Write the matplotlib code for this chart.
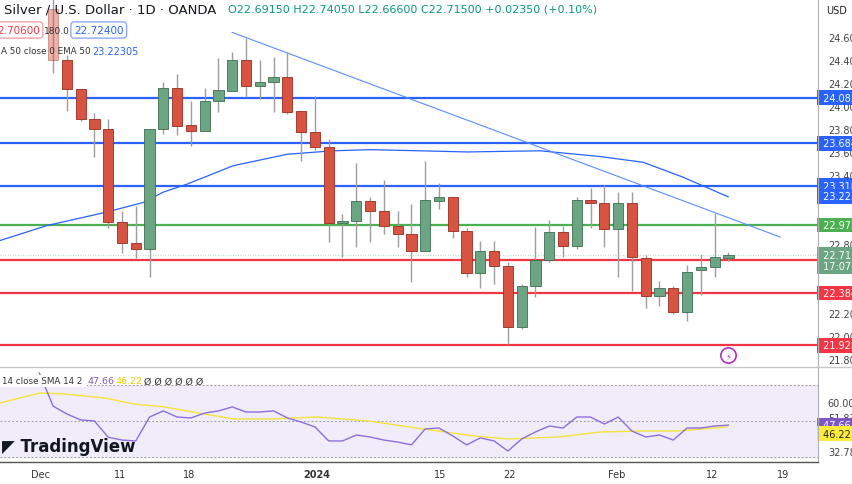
import matplotlib
matplotlib.use("Agg")
import matplotlib.pyplot as plt
import numpy as np
from matplotlib.patches import Rectangle

# daily candles, Dec 4 2023 .. Feb 13 2024 (index 0 = Dec 4)
opens = [24.85, 24.41, 24.16, 23.90, 23.81, 23.00, 22.82, 22.77, 23.81, 24.17,
         23.84, 23.79, 24.05, 24.14, 24.41, 24.18, 24.22, 24.26, 23.97, 23.78,
         23.65, 22.99, 23.01, 23.18, 23.10, 22.97, 22.90, 22.75, 23.18, 23.22,
         22.92, 22.56, 22.75, 22.62, 22.09, 22.44, 22.67, 22.91, 22.79, 23.19,
         23.17, 22.94, 23.17, 22.69, 22.36, 22.43, 22.22, 22.58, 22.61, 22.69]
closes = [24.41, 24.16, 23.90, 23.81, 23.00, 22.82, 22.77, 23.81, 24.17, 23.84,
          23.79, 24.05, 24.15, 24.41, 24.18, 24.22, 24.26, 23.96, 23.78, 23.65,
          22.99, 23.01, 23.18, 23.10, 22.97, 22.90, 22.75, 23.19, 23.22, 22.92,
          22.56, 22.75, 22.62, 22.09, 22.44, 22.67, 22.91, 22.79, 23.19, 23.17,
          22.94, 23.17, 22.70, 22.36, 22.43, 22.22, 22.57, 22.61, 22.70, 22.715]
highs = [24.95, 24.45, 24.03, 23.95, 23.90, 23.10, 23.14, 23.81, 24.22, 24.29,
         24.05, 24.17, 24.43, 24.48, 24.60, 24.41, 24.44, 24.48, 23.97, 24.10,
         23.72, 23.07, 23.51, 23.22, 23.37, 23.10, 23.16, 23.53, 23.34, 23.22,
         22.95, 22.84, 22.84, 22.65, 22.46, 22.96, 23.02, 22.97, 23.22, 23.30,
         23.32, 23.26, 23.26, 22.71, 22.49, 22.44, 22.63, 22.72, 23.08, 22.74]
lows = [24.30, 23.97, 23.88, 23.57, 22.95, 22.73, 22.69, 22.52, 23.77, 23.76,
        23.66, 23.79, 23.96, 24.14, 24.09, 24.07, 23.96, 23.94, 23.53, 23.63,
        22.83, 22.70, 22.78, 22.83, 22.90, 22.78, 22.48, 22.75, 23.11, 22.86,
        22.52, 22.43, 22.46, 21.94, 22.07, 22.35, 22.65, 22.70, 22.77, 22.95,
        22.78, 22.52, 22.40, 22.25, 22.27, 22.20, 22.14, 22.37, 22.52, 22.666]

# EMA 50 (day index, value)
ema_idx = [-3.85, -0.44, 3.63, 6.53, 7.98, 9.72, 13.06, 16.98, 20.32, 23.0, 26.63,
           30.04, 35.34, 39.7, 42.82, 45.72, 48.98]
ema_val = [22.84, 22.97, 23.08, 23.17, 23.26, 23.33, 23.49, 23.59, 23.62, 23.63, 23.62,
           23.61, 23.62, 23.57, 23.52, 23.39, 23.22]

# trendline end points (day index, price)
trend_idx = [12.99, 52.76]
trend_val = [24.65, 22.87]

blue_levels = [24.083, 23.684, 23.318]
green_levels = [22.975]
red_levels = [22.669, 22.384, 21.928]
last_price = 22.715
ema_last = 23.223

price_ticks = [24.6, 24.4, 24.2, 24.0, 23.8, 23.6, 23.4, 23.2, 23.0, 22.8, 22.6, 22.4, 22.2, 22.0, 21.8]

# RSI 14, one value per day from index -1
rsi = [76.7, 58.3, 53.9, 50.6, 50.0, 41.0, 39.4, 38.9, 52.2, 55.6, 52.2, 51.7, 54.4,
       55.6, 57.8, 55.0, 55.0, 55.6, 51.7, 49.4, 46.7, 38.9, 38.9, 42.2, 41.1, 39.4,
       38.3, 36.7, 45.6, 46.1, 41.7, 36.7, 40.6, 38.9, 33.3, 40.0, 43.9, 47.2, 46.1,
       52.2, 52.2, 48.3, 52.2, 44.4, 41.1, 42.2, 39.4, 46.1, 46.1, 47.2, 47.7]
sma_idx = [-3.85, -0.94, 0.84, 3.74, 5.9, 8.07, 10.6, 13.1, 15.7, 19.2, 22.9, 26.8, 30.5,
           33.0, 36.6, 39.8, 42.7, 45.3, 48.9]
sma_val = [60.0, 65.6, 65.0, 62.8, 59.4, 57.8, 54.4, 51.1, 51.1, 52.2, 50.0, 45.6, 41.7,
           40.0, 41.1, 43.9, 44.4, 44.4, 46.7]

tick_idx = [-0.94, 4.86, 9.87, 19.1, 28.1, 33.1, 40.9, 47.8, 53.0]
tick_lbl = ["Dec", "11", "18", "2024", "15", "22", "Feb", "12", "19"]

UP, DN = "#6ba583", "#d75442"
W, H = 852, 485
fig = plt.figure(figsize=(W / 100, H / 100), dpi=100)
fig.patch.set_facecolor("white")

ax = fig.add_axes([0, (H - 368) / H, 818 / W, 368 / H])
rx = fig.add_axes([0, 22 / H, 818 / W, 93 / H])
xlim = (-3.85, 55.5)

for a in (ax, rx):
    a.set_xlim(*xlim)
    a.set_xticks([])
    a.set_yticks([])
    for s in a.spines.values():
        s.set_visible(False)
ax.set_ylim(21.74, 24.94)
rx.set_ylim(27.2, 78.9)

# levels
for lv in blue_levels:
    ax.axhline(lv, color="#2962ff", lw=1.6, zorder=2)
for lv in green_levels:
    ax.axhline(lv, color="#4caf50", lw=1.6, zorder=2)
for lv in red_levels:
    ax.axhline(lv, color="#f23645", lw=1.6, zorder=2)
ax.axhline(last_price, color="#6ba583", lw=0.6, ls=(0, (1, 2)), alpha=0.6)

ax.plot(ema_idx, ema_val, color="#2962ff", lw=0.9, zorder=3)
ax.plot(trend_idx, trend_val, color="#5b8cff", lw=0.8, zorder=3)

for i, (o, c, h, l) in enumerate(zip(opens, closes, highs, lows)):
    col = UP if c >= o else DN
    ax.vlines(i, l, h, color="#9e9e9e", lw=1, zorder=4)
    lo_b = min(o, c)
    ax.add_patch(Rectangle((i - 0.37, lo_b), 0.74, max(abs(c - o), 0.012),
                           facecolor=col, edgecolor="#3d6e52" if c >= o else "#9c2b20",
                           lw=0.6, zorder=5, alpha=0.45 if i == 0 else 1))

# right price axis
ytr = ax.get_yaxis_transform()
fig.add_artist(plt.Line2D([818 / W, 818 / W], [22 / H, 1], color="#b0b0b0", lw=0.8))
for p in price_ticks:
    ax.text(1.012, p, f"{p:.3f}", transform=ytr, fontsize=7, color="#444", va="center", clip_on=False)
def tag(a, y, txt, bg, fg="white"):
    a.text(1.002, y, txt, transform=a.get_yaxis_transform(), fontsize=7, color=fg,
           va="center", ha="left", clip_on=False, zorder=10,
           bbox=dict(boxstyle="square,pad=0.25", fc=bg, ec="none"))
for lv in blue_levels + [ema_last]:
    tag(ax, lv, f" {lv:.3f}  ", "#2962ff")
for lv in green_levels:
    tag(ax, lv, f" {lv:.3f}  ", "#4caf50")
for lv in red_levels:
    tag(ax, lv, f" {lv:.3f}  ", "#f23645")
tag(ax, last_price - 0.05, f" {last_price:.3f}  \n 17:07:  ", "#6ba583")
fig.text(826 / W, 1 - 11 / H, "USD", fontsize=7, color="#222", va="center")

# header
fig.text(4 / W, 1 - 10 / H, "Silver / U.S. Dollar · 1D · OANDA", fontsize=9.5, color="#131722", va="center")
fig.text(228 / W, 1 - 10 / H, "O22.69150 H22.74050 L22.66600 C22.71500 +0.02350 (+0.10%)",
         fontsize=8, color="#089981", va="center")
fig.text(-3 / W, 1 - 31 / H, "2.70600", fontsize=7.5, color="#f23645", va="center",
         bbox=dict(boxstyle="round,pad=0.3", fc="white", ec="#f7a0a8"))
fig.text(44 / W, 1 - 31 / H, "180.0", fontsize=6.5, color="#333", va="center")
fig.text(74 / W, 1 - 31 / H, "22.72400", fontsize=7.5, color="#2962ff", va="center",
         bbox=dict(boxstyle="round,pad=0.3", fc="white", ec="#8fa8ff"))
fig.text(1 / W, 1 - 52 / H, "A 50 close 0 EMA 50", fontsize=6.3, color="#333", va="center")
fig.text(92 / W, 1 - 52 / H, "23.22305", fontsize=7, color="#2962ff", va="center")
ax.plot([49.0], [21.84], marker="o", ms=11, mfc="white", mec="#b02ec4", mew=1.2, zorder=6)
ax.text(49.0, 21.84, "⚡", fontsize=6, color="#b02ec4", ha="center", va="center", zorder=7)

# separator
fig.add_artist(plt.Line2D([0, 1], [1 - 368 / H, 1 - 368 / H], color="#c8c8c8", lw=1))

# RSI pane
rx.axhspan(30, 70, color="#f1ecfa", zorder=0)
for lv in (70, 50, 30):
    rx.axhline(lv, color="#9e9e9e", lw=0.7, ls=(0, (2, 2)), zorder=1)
rx.plot(np.arange(-1, len(rsi) - 1), rsi, color="#8c6fd8", lw=1, zorder=3)
rx.plot(sma_idx, sma_val, color="#f5e23a", lw=1, zorder=2)
rtr = rx.get_yaxis_transform()
for v in (60.00, 51.83, 32.78):
    rx.text(1.012, v, f"{v:.2f}", transform=rtr, fontsize=7, color="#444", va="center", clip_on=False)
tag(rx, 47.66, " 47.66  ", "#7e57c2")
tag(rx, 43.0, " 46.22  ", "#ffeb3b", fg="#222")
fig.text(2 / W, 1 - 382 / H, "14 close SMA 14 2 ", fontsize=6.3, color="#333", va="center",
         bbox=dict(boxstyle="square,pad=0.2", fc="white", ec="none"), zorder=5)
fig.text(88 / W, 1 - 382 / H, "47.66", fontsize=6.8, color="#7e57c2", va="center")
fig.text(116 / W, 1 - 382 / H, "46.22", fontsize=6.8, color="#e6d100", va="center")
fig.text(144 / W, 1 - 382 / H, "Ø Ø Ø Ø Ø Ø", fontsize=6.8, color="#333", va="center")
fig.text(2 / W, 1 - 447 / H, "◤ TradingView", fontsize=12, fontweight="bold", color="#131722", va="center")

# time axis
fig.add_artist(plt.Line2D([0, 818 / W], [22 / H, 22 / H], color="#555", lw=1))
for t, s in zip(tick_idx, tick_lbl):
    xf = (t - xlim[0]) / (xlim[1] - xlim[0]) * 818 / W
    fig.text(xf, 10 / H, s, fontsize=7, color="#333", ha="center", va="center",
             fontweight="bold" if s == "2024" else "normal")

fig.savefig("out.png", dpi=100)
